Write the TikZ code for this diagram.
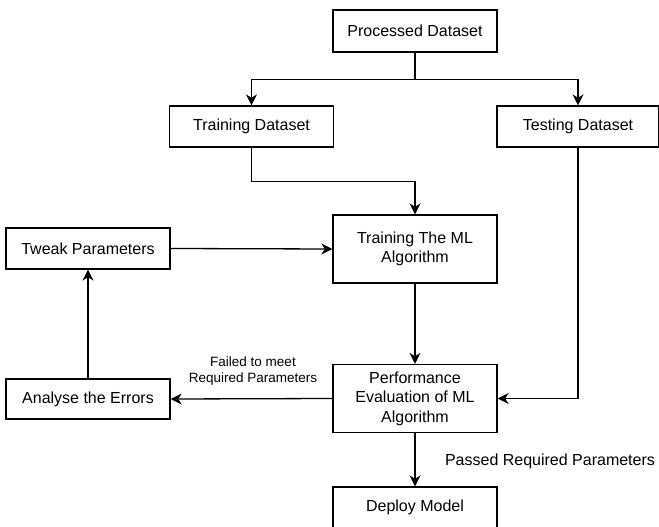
\documentclass[tikz,border=0pt]{standalone}
\usepackage{fontspec}
\setmainfont{Liberation Sans}
\usetikzlibrary{arrows.meta}
\begin{document}
\begin{tikzpicture}[x=1pt,y=-1pt,
  box/.style={draw,line width=1.3pt,minimum width=164pt,inner sep=0pt,align=center,
    font=\fontsize{16}{19.5}\selectfont},
  conn/.style={line width=1.3pt,-{Stealth[length=11pt,width=11pt,inset=3.5pt]}},
  lbl/.style={align=center,inner sep=0pt}]
\useasboundingbox (0,0) rectangle (659,527);
\clip (0,0) rectangle (659,527);
\node[box,minimum height=42pt] (proc) at (415,31) {Processed Dataset};
\node[box,minimum height=41pt] (train) at (251.5,126.5) {Training Dataset};
\node[box,minimum height=41pt,minimum width=162pt] (test) at (578,126.5) {Testing Dataset};
\node[box,minimum height=68pt] (ml) at (415,249) {Training The ML\\Algorithm};
\node[box,minimum height=41pt] (tweak) at (88,248.5) {Tweak Parameters};
\node[box,minimum height=40pt] (analyse) at (88,399) {Analyse the Errors};
\node[box,minimum height=68pt] (perf) at (415,398.5) {Performance\\Evaluation of ML\\Algorithm};
\node[box,minimum height=68pt,text depth=0pt] (deploy) at (415,521) {};
\node[font=\fontsize{16}{19}\selectfont,inner sep=0pt] (deploytext) at (415,507) {Deploy Model};
\draw[conn] (proc.south) -- ++(0,27) -| (train.north);
\draw[conn] (proc.south) -- ++(0,27) -| (test.north);
\draw[conn] (train.south) -- ++(0,34) -| (ml.north);
\draw[conn] (tweak.east) -- (ml.west);
\draw[conn] (ml.south) -- (perf.north);
\draw[conn] (test.south) |- (perf.east);
\draw[conn] (perf.west) -- (analyse.east);
\draw[conn] (analyse.north) -- (tweak.south);
\draw[conn] (perf.south) -- (deploy.north);
\node[lbl,font=\fontsize{13.5}{16.5}\selectfont] (failed) at (253,371) {Failed to meet\\Required Parameters};
\node[lbl,font=\fontsize{16}{19}\selectfont] (passed) at (550,461) {Passed Required Parameters};
\end{tikzpicture}
\end{document}
